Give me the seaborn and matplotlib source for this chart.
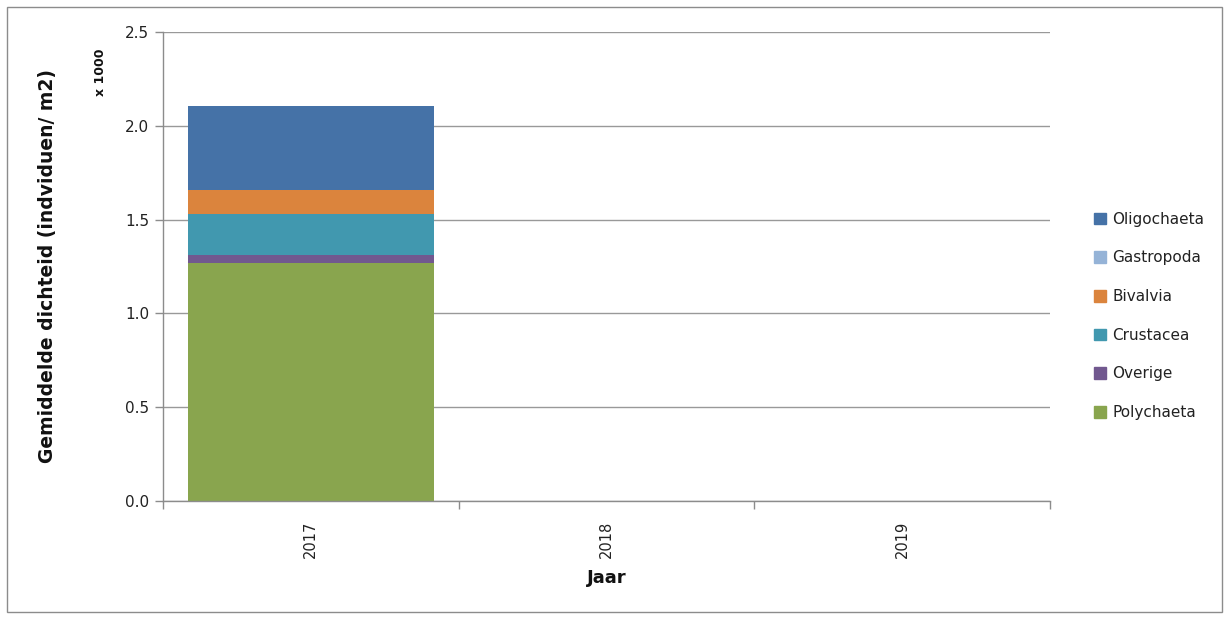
import numpy as np
import pandas as pd
import matplotlib
matplotlib.use("Agg")
import matplotlib.pyplot as plt
from matplotlib.patches import Rectangle
import seaborn as sns

# Mean density per group (individuals / m2), stacked from bottom to top
years = ["2017", "2018", "2019"]
groups = ["Polychaeta", "Overige", "Crustacea", "Bivalvia", "Gastropoda", "Oligochaeta"]
polychaeta = [1269]
overige = [42]
crustacea = [217]
bivalvia = [130]
gastropoda = [0]
oligochaeta = [447]
data_years = ["2017"]

colors = {
    "Polychaeta": "#89A54E",
    "Overige": "#71588F",
    "Crustacea": "#4198AF",
    "Bivalvia": "#DB843D",
    "Gastropoda": "#95B3D7",
    "Oligochaeta": "#4572A7",
}

series = {
    "Polychaeta": polychaeta,
    "Overige": overige,
    "Crustacea": crustacea,
    "Bivalvia": bivalvia,
    "Gastropoda": gastropoda,
    "Oligochaeta": oligochaeta,
}

sns.set_theme(style="white")
plt.rcParams["font.family"] = ["DejaVu Sans"]

fig = plt.figure(figsize=(12.30, 6.19), dpi=100)
ax = fig.add_axes([163 / 1230, 1 - 501 / 619, (1050 - 163) / 1230, (501 - 32) / 619])

bottom = np.zeros(len(data_years))
for g in groups:
    vals = np.array(series[g], dtype=float) / 1000.0
    df = pd.DataFrame({"Jaar": data_years, "v": vals})
    sns.barplot(data=df, x="Jaar", y="v", order=years, color=colors[g],
                width=0.83, bottom=bottom, ax=ax, linewidth=0, saturation=1,
                errorbar=None)
    bottom = bottom + vals

ax.set_xlim(-0.5, 2.5)
ax.set_ylim(0, 2.5)
ax.set_yticks(np.arange(0, 2.51, 0.5))
ax.set_yticklabels([f"{v:.1f}" for v in np.arange(0, 2.51, 0.5)], fontsize=11, color="#222222")
ax.yaxis.grid(True, color="#999999", linewidth=1)
ax.set_axisbelow(True)

ax.set_xticks(range(len(years)))
ax.set_xticklabels(years, rotation=90, fontsize=10.5, color="#222222")
ax.set_xticks([-0.5, 0.5, 1.5, 2.5], minor=True)
ax.tick_params(axis="x", which="major", bottom=True, length=0, pad=14)
ax.tick_params(axis="x", which="minor", bottom=True, length=6, width=1,
               color="#8c8c8c", direction="out")
ax.tick_params(axis="y", which="major", left=True, length=6, width=1,
               color="#8c8c8c", direction="out", pad=4)

for s in ["top", "right"]:
    ax.spines[s].set_visible(False)
for s in ["left", "bottom"]:
    ax.spines[s].set_color("#8c8c8c")
    ax.spines[s].set_linewidth(1)

ax.set_xlabel("Jaar", fontsize=13, fontweight="bold", labelpad=8, color="#111111")
ax.set_ylabel("")
fig.text(48 / 1230, 1 - 266 / 619, "Gemiddelde dichteid (indviduen/ m2)", rotation=90,
         ha="center", va="center", fontsize=13.5, fontweight="bold", color="#111111")
fig.text(101 / 1230, 1 - 72 / 619, "x 1000", rotation=90, ha="center", va="center",
         fontsize=9, fontweight="bold", color="#111111")

# Legend, top entry last in the stack
handles = [Rectangle((0, 0), 1, 1, color=colors[g]) for g in groups[::-1]]
leg = fig.legend(handles, groups[::-1], loc="upper left",
                 bbox_to_anchor=(1080 / 1230, 1 - 198 / 619), frameon=False,
                 fontsize=11, handlelength=0.8, handleheight=0.8,
                 handletextpad=0.4, labelspacing=1.55)
for t in leg.get_texts():
    t.set_color("#222222")

# Outer chart border
fig.patches.append(Rectangle((7 / 1230, 7 / 619), 1215 / 1230, 605 / 619,
                             transform=fig.transFigure, fill=False,
                             edgecolor="#8c8c8c", linewidth=1))

fig.savefig("out.png", dpi=100)
